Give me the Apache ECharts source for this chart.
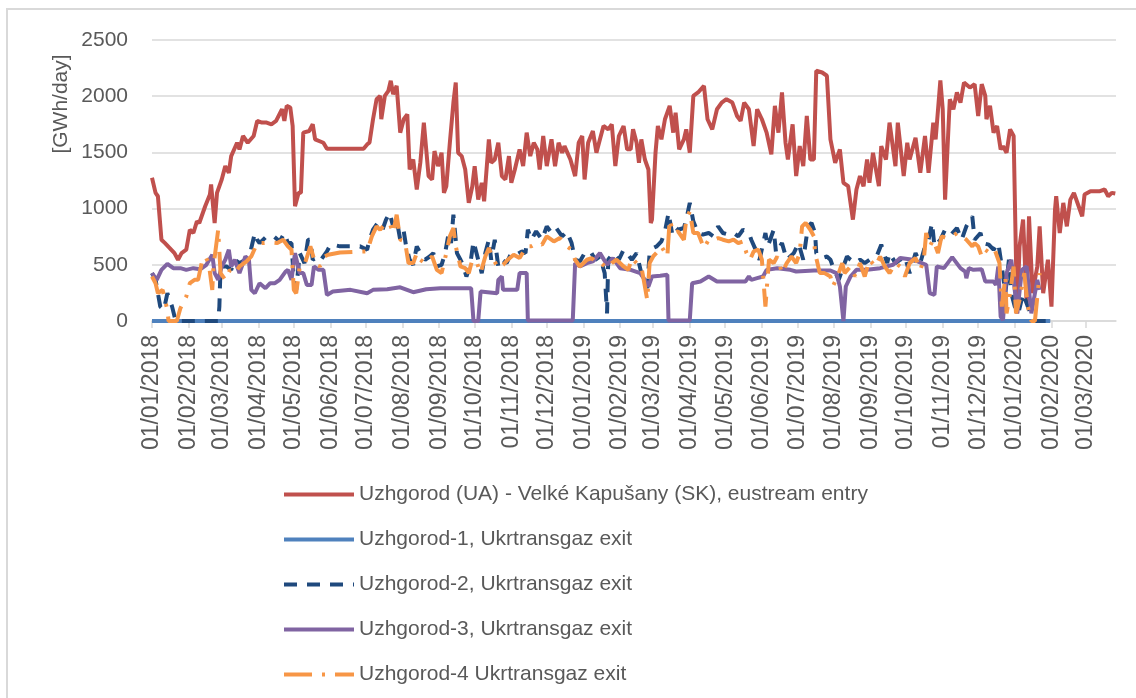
<!DOCTYPE html>
<html>
<head>
<meta charset="utf-8">
<title>Uzhgorod - Velke Kapusany flows</title>
<script src="https://cdn.jsdelivr.net/npm/echarts@6/dist/echarts.min.js"></script>
<style>
  html, body { margin: 0; padding: 0; background: #fff; }
  #chart { width: 1136px; height: 698px; }
</style>
</head>
<body>
<div id="chart"></div>
<script>
// points: [days since 01/01/2018, GWh/day]
const axisEndDay = 815.6;

const monthLabels = [
  '01/01/2018', '01/02/2018', '01/03/2018', '01/04/2018', '01/05/2018', '01/06/2018',
  '01/07/2018', '01/08/2018', '01/09/2018', '01/10/2018', '01/11/2018', '01/12/2018',
  '01/01/2019', '01/02/2019', '01/03/2019', '01/04/2019', '01/05/2019', '01/06/2019',
  '01/07/2019', '01/08/2019', '01/09/2019', '01/10/2019', '01/11/2019', '01/12/2019',
  '01/01/2020', '01/02/2020', '01/03/2020'
];

const seriesNames = [
  'Uzhgorod (UA) - Velké Kapušany (SK), eustream entry',
  'Uzhgorod-1, Ukrtransgaz exit',
  'Uzhgorod-2, Ukrtransgaz exit',
  'Uzhgorod-3, Ukrtransgaz exit',
  'Uzhgorod-4 Ukrtransgaz exit'
];

const kapusanyEntry = [[0,1274],[3,1140],[5,1110],[8,723],[11,693],[15,649],[19,604],[22,545],[25,604],[29,634],[32,812],[35,783],[38,887],[40,872],[45,1021],[49,1125],[50,1214],[53,872],[55,1140],[59,1259],[62,1378],[65,1318],[67,1467],[72,1586],[74,1527],[77,1646],[81,1586],[86,1646],[89,1780],[93,1765],[97,1765],[101,1750],[105,1780],[110,1884],[112,1780],[114,1914],[117,1899],[119,1735],[121,1021],[124,1140],[126,1140],[128,1676],[133,1690],[136,1750],[138,1616],[145,1586],[148,1533],[179,1533],[182,1571],[184,1586],[187,1795],[190,1973],[193,2003],[194,1795],[197,2003],[200,2048],[202,2137],[204,2018],[207,2092],[210,1676],[213,1795],[216,1839],[218,1348],[221,1437],[224,1170],[227,1408],[230,1765],[234,1289],[237,1259],[239,1512],[242,1378],[245,1497],[247,1140],[249,1199],[252,1586],[255,1943],[257,2122],[259,1497],[262,1467],[265,1348],[268,1051],[271,1199],[273,1378],[276,1080],[279,1229],[281,1065],[285,1616],[287,1408],[290,1437],[293,1586],[296,1289],[299,1259],[302,1467],[304,1229],[307,1348],[311,1527],[314,1378],[317,1676],[320,1467],[323,1586],[326,1527],[328,1348],[331,1646],[334,1378],[338,1616],[341,1378],[344,1586],[347,1497],[349,1556],[354,1437],[358,1289],[361,1586],[364,1646],[366,1259],[369,1586],[373,1690],[376,1497],[379,1616],[382,1735],[386,1705],[389,1750],[392,1378],[395,1646],[399,1735],[402,1527],[405,1527],[407,1705],[410,1586],[412,1408],[414,1616],[417,1437],[420,1348],[422,872],[423,902],[426,1497],[428,1735],[431,1616],[434,1795],[438,1914],[441,1676],[443,1854],[446,1527],[450,1616],[452,1705],[455,1497],[458,2003],[462,2033],[467,2092],[470,1795],[474,1705],[478,1884],[482,1943],[486,1973],[491,1943],[495,1824],[498,1780],[501,1943],[505,1884],[509,1556],[512,1884],[516,1795],[520,1676],[524,1482],[527,1914],[530,1676],[533,2033],[536,1586],[538,1437],[542,1750],[545,1289],[548,1556],[551,1378],[554,1824],[557,1437],[560,1437],[562,2226],[567,2211],[571,2182],[574,1616],[578,1408],[582,1527],[585,1229],[589,1199],[593,902],[596,1170],[599,1289],[602,1199],[605,1437],[607,1229],[610,1497],[615,1199],[617,1556],[621,1437],[624,1765],[629,1378],[631,1765],[636,1289],[639,1586],[641,1437],[646,1631],[650,1318],[654,1646],[657,1318],[661,1765],[663,1616],[667,2140],[669,1884],[671,1080],[675,1973],[678,1884],[681,2033],[684,1943],[687,2122],[692,2077],[696,2107],[699,1824],[702,2107],[705,2003],[706,1795],[709,1914],[712,1676],[715,1735],[718,1527],[720,1556],[723,1497],[726,1705],[729,1646],[731,545],[732,68],[734,663],[737,902],[740,158],[742,932],[745,247],[749,485],[751,842],[754,247],[756,396],[758,545],[761,128],[764,991],[765,1110],[768,783],[771,1051],[774,842],[777,1080],[780,1140],[784,1021],[787,932],[789,1125],[794,1155],[802,1155],[806,1170],[809,1110],[812,1140],[815,1134]];

const uzhgorod1 = [[0,0],[760,0]];

const uzhgorod2 = [[0,426],[3,366],[7,128],[10,98],[13,247],[17,128],[20,0],[56,0],[57,128],[58,485],[63,485],[67,455],[70,545],[74,515],[79,545],[83,604],[87,783],[89,723],[91,693],[97,753],[103,753],[108,708],[112,783],[115,693],[118,693],[120,366],[122,277],[125,604],[129,515],[132,723],[134,723],[136,545],[141,574],[143,545],[148,619],[151,679],[153,679],[159,664],[176,664],[182,634],[184,723],[187,812],[191,872],[195,812],[198,902],[201,961],[204,842],[207,902],[210,723],[213,798],[215,664],[218,545],[221,500],[224,664],[227,604],[231,545],[235,574],[238,604],[241,485],[245,500],[248,604],[251,783],[253,693],[255,946],[258,604],[261,545],[263,500],[266,396],[269,485],[272,708],[276,545],[279,426],[282,604],[285,723],[287,545],[290,723],[293,485],[296,545],[300,515],[304,604],[308,589],[313,619],[316,604],[318,812],[321,723],[325,798],[330,723],[334,842],[338,783],[342,827],[347,753],[351,798],[355,693],[358,545],[362,530],[366,604],[371,619],[375,545],[379,574],[383,426],[385,68],[386,545],[390,604],[395,545],[399,634],[402,604],[406,545],[410,604],[414,426],[419,292],[421,604],[424,649],[427,664],[431,708],[434,798],[437,961],[440,783],[442,842],[445,812],[450,827],[452,902],[455,1051],[458,887],[462,783],[466,768],[471,783],[475,753],[479,842],[483,783],[488,768],[492,783],[496,753],[500,812],[505,783],[507,723],[512,604],[514,545],[519,783],[521,664],[526,812],[528,604],[533,693],[537,545],[543,604],[547,693],[551,545],[555,842],[558,872],[561,783],[562,604],[567,560],[571,574],[574,545],[576,485],[581,366],[585,485],[588,574],[591,545],[595,515],[599,545],[603,515],[607,545],[613,574],[617,679],[622,515],[624,604],[629,515],[633,545],[637,574],[641,426],[646,604],[650,515],[654,664],[657,723],[660,872],[662,664],[667,723],[671,812],[676,768],[681,827],[685,723],[689,842],[694,932],[696,723],[701,783],[703,693],[708,679],[712,634],[716,693],[719,485],[722,247],[725,545],[727,247],[730,128],[733,68],[737,247],[741,128],[746,0],[760,0]];

const uzhgorod3 = [[0,426],[4,366],[8,455],[13,509],[18,470],[24,470],[29,455],[35,470],[41,461],[46,500],[51,589],[53,426],[56,366],[59,485],[62,545],[65,634],[67,485],[70,545],[74,426],[79,574],[82,545],[84,277],[87,247],[91,336],[96,292],[100,336],[104,336],[108,366],[113,440],[115,455],[118,366],[121,604],[125,426],[128,426],[131,321],[135,321],[137,485],[141,455],[145,455],[148,232],[153,262],[168,277],[182,247],[187,277],[199,283],[210,300],[221,256],[232,283],[244,292],[258,292],[270,292],[272,0],[276,0],[278,262],[292,247],[293,366],[296,396],[297,277],[309,277],[311,426],[317,426],[318,5],[356,5],[358,515],[362,485],[368,515],[373,530],[379,604],[385,500],[390,560],[396,470],[405,455],[413,426],[417,366],[420,307],[423,396],[430,402],[436,411],[437,5],[455,5],[457,336],[464,351],[471,396],[478,351],[492,351],[502,351],[505,396],[507,366],[512,381],[517,396],[520,455],[529,470],[540,455],[545,440],[560,449],[574,449],[579,426],[582,307],[585,0],[587,307],[591,396],[596,455],[605,455],[616,470],[627,500],[633,560],[644,545],[655,500],[658,247],[662,232],[664,485],[670,470],[677,568],[684,470],[688,440],[689,381],[691,470],[695,455],[702,461],[705,351],[712,351],[714,321],[716,485],[718,39],[720,9],[723,426],[727,545],[729,366],[732,68],[736,455],[740,485],[744,68],[749,366],[751,277]];

const uzhgorod4 = [[0,396],[3,336],[5,247],[9,277],[13,98],[14,0],[21,0],[24,113],[29,217],[32,336],[36,366],[39,366],[42,515],[45,574],[48,515],[51,277],[52,485],[56,812],[58,426],[62,366],[66,455],[70,426],[74,485],[80,530],[84,574],[89,693],[94,693],[100,699],[106,693],[111,723],[115,664],[118,634],[120,277],[122,247],[125,485],[129,500],[134,664],[138,515],[142,485],[146,574],[149,589],[159,610],[179,619],[182,619],[186,753],[190,842],[193,812],[197,857],[201,872],[204,783],[207,946],[210,723],[214,708],[217,515],[221,515],[224,604],[227,545],[231,515],[237,574],[241,455],[245,426],[249,604],[252,753],[255,827],[257,664],[261,485],[265,470],[268,426],[271,545],[275,515],[278,426],[282,574],[285,649],[289,545],[293,470],[297,500],[301,545],[306,589],[311,560],[317,664],[321,664],[326,693],[330,679],[334,753],[340,708],[345,738],[351,664],[355,634],[358,545],[362,485],[368,545],[372,560],[376,515],[380,515],[385,470],[389,515],[393,545],[399,485],[403,455],[406,560],[410,515],[414,485],[417,307],[419,188],[421,515],[424,574],[428,619],[431,664],[436,574],[438,902],[441,783],[445,798],[450,723],[452,902],[455,976],[458,783],[462,783],[467,649],[471,723],[475,723],[479,738],[483,723],[488,708],[492,723],[496,693],[500,708],[503,604],[506,545],[509,619],[513,634],[516,545],[519,128],[522,545],[526,515],[529,574],[533,426],[537,515],[541,574],[545,515],[548,604],[550,842],[553,872],[557,812],[560,753],[561,604],[565,426],[569,426],[574,396],[576,307],[580,396],[584,515],[586,426],[591,485],[595,396],[599,515],[603,396],[607,545],[612,485],[616,574],[620,485],[624,426],[629,515],[633,485],[637,396],[641,515],[646,560],[650,455],[653,545],[655,783],[658,664],[661,723],[665,604],[668,753],[672,738],[677,753],[681,783],[685,753],[689,723],[694,664],[696,693],[699,664],[702,574],[705,634],[709,604],[713,634],[717,515],[719,128],[722,396],[723,68],[726,247],[729,485],[731,68],[734,188],[738,426],[741,128],[744,0],[747,0],[751,426]];

// day offset of each month label, used as the x tick positions
const DAY = 86400000;
const t0 = Date.UTC(2018, 0, 1);
const monthDays = monthLabels.map(s => {
  const p = s.split('/');
  return Math.round((Date.UTC(+p[2], +p[1] - 1, +p[0]) - t0) / DAY);
});

const font = 'Liberation Sans';
const textColor = '#595959';
const gridColor = '#d9d9d9';
const lineW = 4;

const chart = echarts.init(document.getElementById('chart'));

function lineSeries(name, color, data, dash) {
  return {
    name: name,
    type: 'line',
    symbol: 'none',
    lineStyle: { color: color, width: lineW, type: dash || 'solid' },
    itemStyle: { color: color },
    data: data
  };
}

const option = {
  animation: false,
  backgroundColor: '#fff',
  grid: { left: 152, right: 20, top: 40, bottom: 377 },
  graphic: [
    {
      type: 'rect',
      shape: { x: 7, y: 9, width: 1300, height: 900 },
      style: { fill: 'none', stroke: gridColor, lineWidth: 2 },
      silent: true
    },
    {
      type: 'text',
      x: 61, y: 104,
      rotation: Math.PI / 2,
      style: {
        text: '[GWh/day]',
        fill: textColor,
        font: '21px "' + font + '"',
        align: 'center',
        verticalAlign: 'middle'
      },
      silent: true
    }
  ],
  legend: {
    orient: 'vertical',
    left: 282,
    top: 484,
    padding: 0,
    itemWidth: 70,
    itemHeight: 14,
    itemGap: 24,
    itemStyle: { opacity: 0 },
    lineStyle: { width: 4 },
    textStyle: { color: textColor, fontSize: 21, fontFamily: font },
    data: seriesNames
  },
  xAxis: {
    type: 'value',
    min: 0,
    max: axisEndDay,
    axisLine: { lineStyle: { color: gridColor, width: 1.5 } },
    axisTick: {
      show: true,
      customValues: monthDays,
      length: 7,
      lineStyle: { color: gridColor, width: 1.5 }
    },
    axisLabel: {
      customValues: monthDays,
      rotate: 90,
      margin: 14,
      color: textColor,
      fontSize: 23,
      fontFamily: font,
      formatter: function (v) {
        const i = monthDays.indexOf(Math.round(v));
        return i >= 0 ? monthLabels[i] : '';
      }
    },
    splitLine: { show: false }
  },
  yAxis: {
    type: 'value',
    min: 0,
    max: 2500,
    interval: 500,
    axisLine: { show: false },
    axisTick: { show: false },
    axisLabel: {
      color: textColor, fontSize: 21, fontFamily: font, margin: 24,
      formatter: v => String(v)
    },
    splitLine: { lineStyle: { color: gridColor, width: 1.5 } }
  },
  series: [
    lineSeries(seriesNames[0], '#C0504D', kapusanyEntry),
    lineSeries(seriesNames[1], '#4F81BD', uzhgorod1),
    lineSeries(seriesNames[2], '#1F497D', uzhgorod2, [13, 10]),
    lineSeries(seriesNames[3], '#8064A2', uzhgorod3),
    lineSeries(seriesNames[4], '#F79646', uzhgorod4, [28, 10, 3, 10])
  ]
};

chart.setOption(option);
</script>
</body>
</html>
